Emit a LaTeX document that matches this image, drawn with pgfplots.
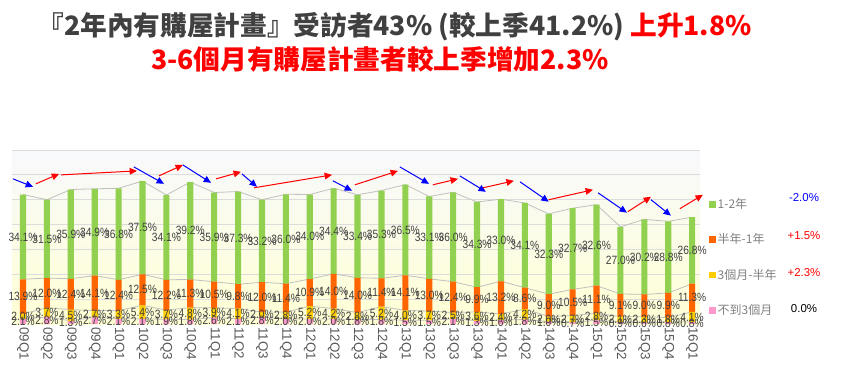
\documentclass[border=0pt]{standalone}
\usepackage{pgfplots}
\pgfplotsset{compat=1.18}
\usepackage{pgfplotstable}
\usepackage{fontspec}
\usetikzlibrary{arrows.meta}
\setmainfont{Liberation Sans}
\newfontfamily\cjk{Noto Sans CJK TC}
\newfontfamily\lab[FakeStretch=0.85]{Liberation Sans}
\definecolor{cgreen}{HTML}{92D050}
\definecolor{corange}{HTML}{FF6600}
\definecolor{cyellow}{HTML}{FFCC00}
\definecolor{cpink}{HTML}{FF99CC}
\definecolor{txtgray}{HTML}{404040}
\definecolor{tickgray}{HTML}{595959}
\definecolor{leggray}{HTML}{808080}
\definecolor{bgtop}{HTML}{F8F9FC}
\definecolor{bgmid}{HTML}{FFFFEA}
\definecolor{bgbot}{HTML}{FFFFD4}
\definecolor{gridgray}{HTML}{DCDCDC}
\definecolor{serline}{HTML}{C0C0C0}

\pgfplotstableread{
x lbl p y o g
0 09Q1 2.1 2.0 13.9 34.1
1 09Q2 2.8 3.7 12.0 31.5
2 09Q3 1.3 4.5 12.4 35.9
3 09Q4 2.7 2.7 14.1 34.9
4 10Q1 2.1 3.3 12.4 36.8
5 10Q2 2.1 5.4 12.5 37.5
6 10Q3 1.9 3.7 12.2 34.1
7 10Q4 1.8 4.8 11.3 39.2
8 11Q1 2.6 3.9 10.5 35.9
9 11Q2 2.1 4.1 9.8 37.3
10 11Q3 2.8 2.0 12.0 33.2
11 11Q4 2.0 2.8 11.4 36.0
12 12Q1 2.0 5.2 10.9 34.0
13 12Q2 2.0 4.2 14.0 34.4
14 12Q3 1.8 2.8 14.0 33.4
15 12Q4 1.8 5.2 11.4 35.3
16 13Q1 1.5 4.0 14.1 36.5
17 13Q2 1.5 3.7 13.0 33.1
18 13Q3 2.1 2.5 12.4 36.0
19 13Q4 1.3 3.6 9.9 34.3
20 14Q1 1.6 2.4 13.2 33.0
21 14Q2 1.8 4.2 8.6 34.1
22 14Q3 1.0 2.0 9.0 32.3
23 14Q4 0.7 2.7 10.5 32.7
24 15Q1 1.5 2.8 11.1 32.6
25 15Q2 0.9 2.1 9.1 27.0
26 15Q3 0.6 2.3 9.0 30.2
27 15Q4 0.8 1.8 9.9 28.8
28 16Q1 0.8 4.1 11.3 26.8
}\data

\pgfplotsset{
  base/.style={at={(9pt,44.25pt)}, anchor=south west, scale only axis,
    width=516pt, height=130.5pt, xmin=-0.46, xmax=28.33, ymin=0, ymax=70},
  sq legend/.style={legend image code/.code={\fill[##1] (0pt,-2.6pt) rectangle (5.2pt,2.6pt);}},
  lbl/.style={draw=none, mark=none, nodes near coords={\pgfplotspointmeta\%},
    point meta=explicit symbolic},
}
\tikzset{arr/.style={line width=0.75pt, -{Triangle[length=5.5pt,width=5pt]}}}

\begin{document}
\begin{tikzpicture}
\useasboundingbox (0pt,0pt) rectangle (640.5pt,287.25pt);

\node[font=\cjk\bfseries\fontsize{20}{24}\selectfont, text=txtgray] at (296pt,267.5pt)
  {『2年內有購屋計畫』受訪者43\% (較上季41.2\%) \textcolor{red}{上升1.8\%}};
\node[font=\cjk\bfseries\fontsize{20}{24}\selectfont, text=red] at (285pt,243pt)
  {3-6個月有購屋計畫者較上季增加2.3\%};

% background, grid, series lines, tick labels
\begin{axis}[base,
  axis background/.style={shade, top color=bgtop, middle color=bgmid, bottom color=bgbot},
  axis line style={draw=none},
  ytick={10,20,...,70}, yticklabels={}, ymajorgrids, grid style={gridgray, line width=0.6pt},
  major tick length=0pt,
  xtick={0,...,28}, xticklabels from table={\data}{lbl},
  xticklabel style={rotate=-90, anchor=west, font=\fontsize{10}{11}\selectfont, text=tickgray, xshift=-1pt},
]
\addplot[serline, line width=0.6pt] table[x=x, y expr=\thisrow{p}] {\data};
\addplot[serline, line width=0.6pt] table[x=x, y expr=\thisrow{p}+\thisrow{y}] {\data};
\addplot[serline, line width=0.6pt] table[x=x, y expr=\thisrow{p}+\thisrow{y}+\thisrow{o}] {\data};
\addplot[serline, line width=0.6pt] table[x=x, y expr=\thisrow{p}+\thisrow{y}+\thisrow{o}+\thisrow{g}] {\data};
\end{axis}

% stacked bars
\begin{axis}[base, ybar stacked, bar width=4.6pt, hide axis,
  reverse legend,
  legend style={at={(axis description cs:1.0124,0.737)}, anchor=north west, draw=none, fill=none,
    font=\cjk\fontsize{9}{11}\selectfont, text=leggray, row sep=14.5pt, inner sep=0pt,
    nodes={inner sep=1.5pt}},
  legend cell align=left,
]
\addplot[fill=cpink, draw=none, sq legend] table[x=x, y=p] {\data};
\addlegendentry{不到3個月}
\addplot[fill=cyellow, draw=none, sq legend] table[x=x, y=y] {\data};
\addlegendentry{3個月-半年}
\addplot[fill=corange, draw=none, sq legend] table[x=x, y=o] {\data};
\addlegendentry{半年-1年}
\addplot[fill=cgreen, draw=none, sq legend] table[x=x, y=g] {\data};
\addlegendentry{1-2年}
\end{axis}

% data labels and arrows
\begin{axis}[base, hide axis, clip=false,
  every node near coord/.append style={anchor=center, font=\lab\fontsize{9}{10}\selectfont, text=txtgray, inner sep=0pt},
]
\addplot[lbl] table[x=x, y expr=\thisrow{p}/2, meta=p] {\data};
\addplot[lbl] table[x=x, y expr=\thisrow{p}+\thisrow{y}/2, meta=y] {\data};
\addplot[lbl] table[x=x, y expr=\thisrow{p}+\thisrow{y}+\thisrow{o}/2, meta=o] {\data};
\addplot[lbl] table[x=x, y expr=\thisrow{p}+\thisrow{y}+\thisrow{o}+\thisrow{g}/2, meta=g] {\data};

\draw[arr, blue] (axis cs:-0.42,58.4) -- (axis cs:0.42,55.2);
\draw[arr, red]  (axis cs:0.54,56.4) -- (axis cs:1.51,60.4);
\draw[arr, red]  (axis cs:1.59,60) -- (axis cs:4.77,61.6);
\draw[arr, blue] (axis cs:4.64,63.2) -- (axis cs:5.90,56.4);
\draw[arr, red]  (axis cs:5.69,59.6) -- (axis cs:6.69,64);
\draw[arr, blue] (axis cs:6.69,64) -- (axis cs:7.87,56.8);
\draw[arr, red]  (axis cs:8.08,58.4) -- (axis cs:9.12,61.2);
\draw[arr, blue] (axis cs:9.16,60.4) -- (axis cs:9.79,55.2);
\draw[arr, red]  (axis cs:9.67,54.8) -- (axis cs:12.93,60);
\draw[arr, blue] (axis cs:12.97,57.6) -- (axis cs:13.77,53.6);
\draw[arr, red]  (axis cs:13.89,56) -- (axis cs:15.69,61.6);
\draw[arr, blue] (axis cs:15.77,63.2) -- (axis cs:16.99,56.4);
\draw[arr, red]  (axis cs:17.15,56) -- (axis cs:18.2,58.4);
\draw[arr, blue] (axis cs:18.28,59.6) -- (axis cs:19.37,53.2);
\draw[arr, red]  (axis cs:19.25,54.8) -- (axis cs:20.54,57.6);
\draw[arr, blue] (axis cs:20.8,57.2) -- (axis cs:22.0,49.2);
\draw[arr, red]  (axis cs:22.0,50) -- (axis cs:23.85,54);
\draw[arr, blue] (axis cs:24.06,52.8) -- (axis cs:25.27,44.8);
\draw[arr, red]  (axis cs:25.31,45.2) -- (axis cs:26.28,51.2);
\draw[arr, blue] (axis cs:26.28,50) -- (axis cs:27.11,43.6);
\draw[arr, red]  (axis cs:27.49,46.4) -- (axis cs:28.45,52);
\end{axis}

\node[font=\fontsize{8.6}{10}\selectfont, text=blue] at (603pt,138.75pt) {-2.0\%};
\node[font=\fontsize{8.6}{10}\selectfont, text=red] at (603pt,110.25pt) {+1.5\%};
\node[font=\fontsize{8.6}{10}\selectfont, text=red] at (603pt,82.5pt) {+2.3\%};
\node[font=\fontsize{8.6}{10}\selectfont, text=black] at (603pt,55.5pt) {0.0\%};
\end{tikzpicture}
\end{document}
